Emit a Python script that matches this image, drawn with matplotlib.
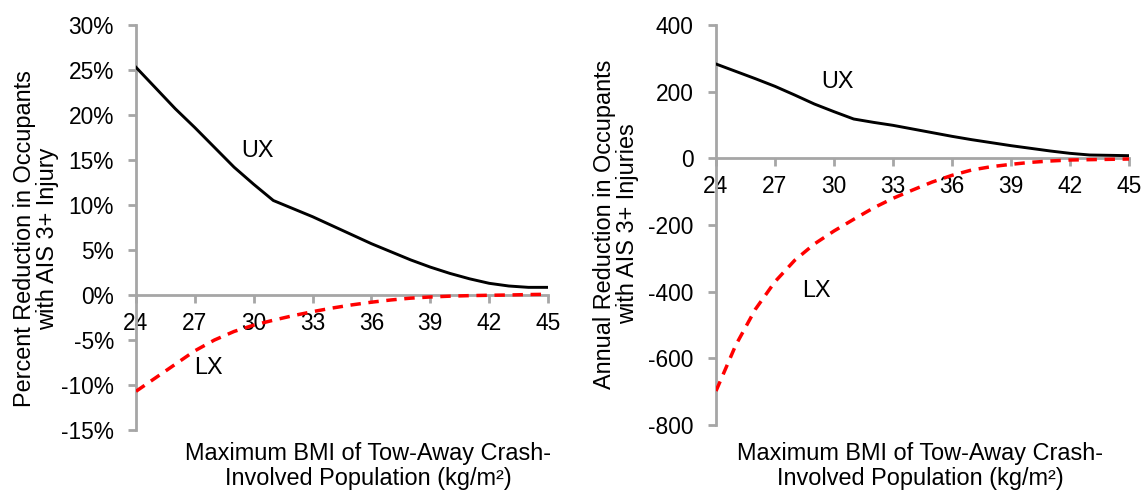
import matplotlib
matplotlib.use("Agg")
import matplotlib.pyplot as plt
from matplotlib.ticker import FuncFormatter

plt.rcParams['font.family'] = ['Liberation Sans', 'DejaVu Sans']

bmi = [24, 25, 26, 27, 28, 29, 30, 31, 32, 33, 34, 35, 36, 37, 38, 39, 40, 41, 42, 43, 44, 45]

# Left panel: percent reduction in occupants with AIS 3+ injury (%)
ux_pct = [25.3, 23.0, 20.7, 18.6, 16.4, 14.2, 12.3, 10.5, 9.6, 8.7, 7.7, 6.7, 5.7, 4.8, 3.9, 3.1, 2.4, 1.8, 1.3, 1.0, 0.85, 0.85]
lx_pct = [-10.7, -9.2, -7.7, -6.2, -5.0, -4.05, -3.35, -2.8, -2.3, -1.85, -1.45, -1.1, -0.8, -0.55, -0.35, -0.22, -0.13, -0.07, -0.03, 0.0, 0.05, 0.08]

# Right panel: annual reduction in occupants with AIS 3+ injuries
ux_ann = [283, 261, 239, 216, 190, 163, 140, 118, 108, 99, 88, 77, 66, 56, 47, 38, 30, 22, 15, 10, 9, 8]
lx_ann = [-698, -561, -453, -370, -306, -257, -218, -183, -149, -120, -95, -71, -51, -35, -25, -18, -12, -8, -5, -4, -3, -2]

xticks = [24, 27, 30, 33, 36, 39, 42, 45]
left_yticks = [-15, -10, -5, 0, 5, 10, 15, 20, 25, 30]
right_yticks = [-800, -600, -400, -200, 0, 200, 400]

xlabel = "Maximum BMI of Tow-Away Crash-\nInvolved Population (kg/m\u00b2)"
left_ylabel = "Percent Reduction in Occupants\nwith AIS 3+ Injury"
right_ylabel = "Annual Reduction in Occupants\nwith AIS 3+ Injuries"

W, H = 1144, 490
fig = plt.figure(figsize=(W / 100, H / 100), dpi=100)

GRAY = '#a6a6a6'
TICKFS = 16.4
LABFS = 16.9


def style(ax, yticks, ylim, fmt):
    ax.set_xlim(24, 45)
    ax.set_ylim(*ylim)
    for s in ['top', 'right']:
        ax.spines[s].set_visible(False)
    ax.spines['left'].set_color(GRAY)
    ax.spines['left'].set_linewidth(2)
    ax.spines['bottom'].set_position(('data', 0))
    ax.spines['bottom'].set_color(GRAY)
    ax.spines['bottom'].set_linewidth(2)
    ax.set_xticks(xticks)
    ax.set_yticks(yticks)
    ax.yaxis.set_major_formatter(FuncFormatter(fmt))
    ax.tick_params(axis='both', colors=GRAY, labelcolor='black', width=2, length=6,
                   direction='out', labelsize=TICKFS)
    ax.tick_params(axis='y', pad=10)
    ax.tick_params(axis='x', pad=6)
    ax.patch.set_alpha(0)


# Left axes
ax1 = fig.add_axes([136 / W, 1 - 430 / H, 412 / W, 405 / H])
ax1.plot(bmi, ux_pct, color='black', lw=2.1, zorder=3)
ax1.plot(bmi, lx_pct, color='#ff0000', lw=2.5, dashes=(3, 2.2), zorder=3)
style(ax1, left_yticks, (-15, 30), lambda v, p: f"{int(round(v))}%")
ax1.text(30.2, 16.1, "UX", fontsize=TICKFS + 0.4, ha='center', va='center')
ax1.text(27.7, -8.1, "LX", fontsize=TICKFS + 0.4, ha='center', va='center')

# Right axes
ax2 = fig.add_axes([716 / W, 1 - 425 / H, 413 / W, 400 / H])
ax2.plot(bmi, ux_ann, color='black', lw=2.1, zorder=3)
ax2.plot(bmi, lx_ann, color='#ff0000', lw=2.5, dashes=(3, 2.2), zorder=3)
style(ax2, right_yticks, (-800, 400), lambda v, p: f"{int(round(v))}")
ax2.text(30.2, 229, "UX", fontsize=TICKFS + 0.4, ha='center', va='center')
ax2.text(29.1, -397, "LX", fontsize=TICKFS + 0.4, ha='center', va='center')

# Axis labels placed in figure coordinates
fig.text(368 / W, 1 - 466 / H, xlabel, fontsize=LABFS, ha='center', va='center',
         linespacing=1.08)
fig.text(920 / W, 1 - 466 / H, xlabel, fontsize=LABFS, ha='center', va='center',
         linespacing=1.08)
fig.text(36 / W, 1 - 239 / H, left_ylabel, fontsize=LABFS, ha='center', va='center',
         rotation=90, linespacing=1.05)
fig.text(616 / W, 1 - 224 / H, right_ylabel, fontsize=LABFS, ha='center', va='center',
         rotation=90, linespacing=1.05)

fig.savefig("out.png", dpi=100, facecolor='white')
